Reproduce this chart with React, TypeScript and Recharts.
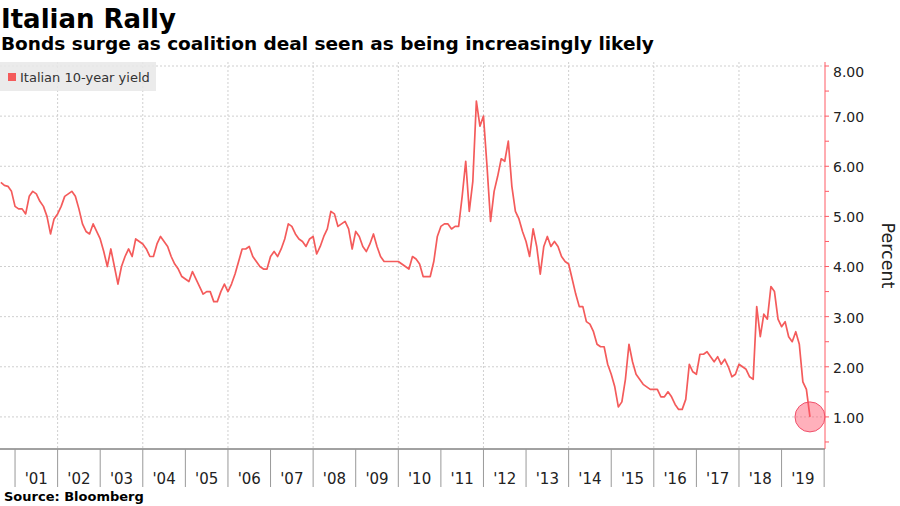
import { LineChart, Line, XAxis, YAxis, CartesianGrid, ReferenceDot } from 'recharts';

// Italian 10-year yield, monthly readings (first of month)
const yields2000 = [5.68, 5.62, 5.6, 5.5]; // Sep-Dec
const yields2001 = [5.2, 5.15, 5.15, 5.05, 5.4, 5.5, 5.45, 5.3, 5.2, 5.0, 4.65, 4.95];
const yields2002 = [5.05, 5.2, 5.4, 5.45, 5.5, 5.4, 5.15, 4.85, 4.7, 4.65, 4.85, 4.7];
const yields2003 = [4.55, 4.3, 4.0, 4.35, 4.0, 3.65, 4.0, 4.2, 4.35, 4.2, 4.55, 4.5];
const yields2004 = [4.45, 4.35, 4.2, 4.2, 4.45, 4.6, 4.5, 4.4, 4.2, 4.05, 3.95, 3.8];
const yields2005 = [3.75, 3.7, 3.9, 3.75, 3.6, 3.45, 3.5, 3.5, 3.3, 3.3, 3.5, 3.65];
const yields2006 = [3.5, 3.65, 3.85, 4.1, 4.35, 4.35, 4.4, 4.2, 4.1, 4.0, 3.95, 3.95];
const yields2007 = [4.2, 4.3, 4.2, 4.35, 4.55, 4.85, 4.8, 4.65, 4.55, 4.5, 4.4, 4.55];
const yields2008 = [4.6, 4.25, 4.4, 4.6, 4.75, 5.1, 5.05, 4.8, 4.85, 4.9, 4.75, 4.35];
const yields2009 = [4.7, 4.6, 4.4, 4.3, 4.45, 4.65, 4.4, 4.2, 4.1, 4.1, 4.1, 4.1];
const yields2010 = [4.1, 4.05, 4.0, 3.95, 4.2, 4.15, 4.05, 3.8, 3.8, 3.8, 4.1, 4.6];
const yields2011 = [4.8, 4.85, 4.85, 4.75, 4.8, 4.8, 5.4, 6.1, 5.1, 5.7, 7.3, 6.8];
const yields2012 = [7.0, 6.0, 4.9, 5.5, 5.8, 6.15, 6.1, 6.5, 5.6, 5.1, 4.95, 4.7];
const yields2013 = [4.5, 4.2, 4.75, 4.4, 3.85, 4.4, 4.6, 4.4, 4.5, 4.4, 4.2, 4.1];
const yields2014 = [4.05, 3.75, 3.45, 3.2, 3.2, 2.9, 2.85, 2.7, 2.45, 2.4, 2.4, 2.05];
const yields2015 = [1.85, 1.6, 1.2, 1.3, 1.75, 2.45, 2.1, 1.85, 1.75, 1.65, 1.6, 1.55];
const yields2016 = [1.55, 1.55, 1.4, 1.4, 1.5, 1.4, 1.25, 1.15, 1.15, 1.35, 2.05, 1.9];
const yields2017 = [1.85, 2.25, 2.25, 2.3, 2.2, 2.1, 2.2, 2.05, 2.15, 2.0, 1.8, 1.85];
const yields2018 = [2.05, 2.0, 1.95, 1.8, 1.75, 3.2, 2.6, 3.05, 2.95, 3.6, 3.5, 2.95];
const yields2019 = [2.8, 2.9, 2.6, 2.5, 2.7, 2.45, 1.7, 1.55, 1.0]; // Jan-Sep

const yearBlocks = [
  { year: 2000, firstMonth: 9, values: yields2000 },
  { year: 2001, firstMonth: 1, values: yields2001 },
  { year: 2002, firstMonth: 1, values: yields2002 },
  { year: 2003, firstMonth: 1, values: yields2003 },
  { year: 2004, firstMonth: 1, values: yields2004 },
  { year: 2005, firstMonth: 1, values: yields2005 },
  { year: 2006, firstMonth: 1, values: yields2006 },
  { year: 2007, firstMonth: 1, values: yields2007 },
  { year: 2008, firstMonth: 1, values: yields2008 },
  { year: 2009, firstMonth: 1, values: yields2009 },
  { year: 2010, firstMonth: 1, values: yields2010 },
  { year: 2011, firstMonth: 1, values: yields2011 },
  { year: 2012, firstMonth: 1, values: yields2012 },
  { year: 2013, firstMonth: 1, values: yields2013 },
  { year: 2014, firstMonth: 1, values: yields2014 },
  { year: 2015, firstMonth: 1, values: yields2015 },
  { year: 2016, firstMonth: 1, values: yields2016 },
  { year: 2017, firstMonth: 1, values: yields2017 },
  { year: 2018, firstMonth: 1, values: yields2018 },
  { year: 2019, firstMonth: 1, values: yields2019 },
];

const yearTicks = [2001, 2002, 2003, 2004, 2005, 2006, 2007, 2008, 2009, 2010, 2011, 2012, 2013, 2014, 2015, 2016, 2017, 2018, 2019, 2020];
const yearGridLines = [2002, 2004, 2006, 2008, 2010, 2012, 2014, 2016, 2018];
const percentTicks = [0.5, 1, 1.5, 2, 2.5, 3, 3.5, 4, 4.5, 5, 5.5, 6, 6.5, 7, 7.5, 8];
const percentGridLines = [1, 2, 3, 4, 5, 6, 7, 8];

const data = yearBlocks.flatMap((b) =>
  b.values.map((v, i) => ({ t: b.year + (b.firstMonth - 1 + i) / 12, v }))
);
const last = data[data.length - 1];

const W = 900;
const H = 506;
const X_DOMAIN: [number, number] = [2000.647, 2020.02];
const Y_DOMAIN: [number, number] = [0.36, 8.08];
const PLOT_W = 825;
const HALF_YEAR = PLOT_W / (X_DOMAIN[1] - X_DOMAIN[0]) / 2;

const RED = '#f45b5b';
const AXIS_RED = '#ff5a64';
const FONT = '"DejaVu Sans", Verdana, sans-serif';

function YearTick({ x, y, payload }: any) {
  const yr = payload.value;
  return (
    <g>
      <line x1={x} x2={x} y1={y} y2={y + 38} stroke="#999" />
      {yr < 2020 && (
        <text x={x + HALF_YEAR} y={y + 35} textAnchor="middle" fontSize={15} fontFamily={FONT} fill="#222">
          {"'" + String(yr).slice(2)}
        </text>
      )}
    </g>
  );
}

function PercentTick({ x, y, payload }: any) {
  const v = payload.value;
  const major = Number.isInteger(v);
  return (
    <g>
      <line x1={x} x2={x + 4} y1={y} y2={y} stroke={AXIS_RED} />
      {major && (
        <text x={x + 8} y={v === 8 ? y + 6 : y + 1} dy="0.35em" fontSize={14} fontFamily={FONT} fill="#222">
          {v.toFixed(2)}
        </text>
      )}
    </g>
  );
}

export default function App() {
  return (
    <div style={{ position: 'absolute', left: 0, top: 0, width: W, height: H, background: '#fff', fontFamily: FONT }}>
      <LineChart width={W} height={H} data={data} margin={{ top: 62, right: 0, bottom: 0, left: 0 }}>
        <CartesianGrid
          stroke="#cfcfcf"
          strokeDasharray="2 2"
          horizontalValues={percentGridLines}
          verticalValues={yearGridLines}
        />
        <XAxis
          dataKey="t"
          type="number"
          domain={X_DOMAIN}
          ticks={yearTicks}
          interval={0}
          height={57}
          tickSize={0}
          tickMargin={0}
          tickLine={false}
          axisLine={{ stroke: '#444' }}
          tick={<YearTick />}
          allowDataOverflow
        />
        <YAxis
          orientation="right"
          type="number"
          domain={Y_DOMAIN}
          ticks={percentTicks}
          interval={0}
          width={75}
          tickSize={0}
          tickMargin={0}
          tickLine={false}
          axisLine={{ stroke: AXIS_RED }}
          tick={<PercentTick />}
          allowDataOverflow
        />
        <Line type="linear" dataKey="v" stroke={RED} strokeWidth={1.7} strokeLinejoin="round" dot={false} isAnimationActive={false} />
        <ReferenceDot x={last.t} y={last.v} r={15} fill="rgba(255, 80, 105, 0.45)" stroke="#f0506a" strokeWidth={1} />
      </LineChart>
      <svg width={W} height={H} style={{ position: 'absolute', left: 0, top: 0, pointerEvents: 'none' }}>
        <text x={1} y={28} fontSize={26} fontWeight="bold" fontFamily={FONT} fill="#000">Italian Rally</text>
        <text x={1} y={50} fontSize={18.5} fontWeight="bold" fontFamily={FONT} fill="#000">
          Bonds surge as coalition deal seen as being increasingly likely
        </text>
        <rect x={0} y={62} width={156} height={29} fill="rgba(232,232,232,0.85)" />
        <rect x={8} y={73} width={8} height={8} fill={RED} />
        <text x={20} y={81.5} fontSize={13} fontFamily={FONT} fill="#333">Italian 10-year yield</text>
        <text x={882} y={255.5} transform="rotate(90 882 255.5)" textAnchor="middle" fontSize={17.5} fontFamily={FONT} fill="#222">
          Percent
        </text>
        <text x={4} y={501} fontSize={13} fontWeight="bold" fontFamily={FONT} fill="#000">Source: Bloomberg</text>
      </svg>
    </div>
  );
}
